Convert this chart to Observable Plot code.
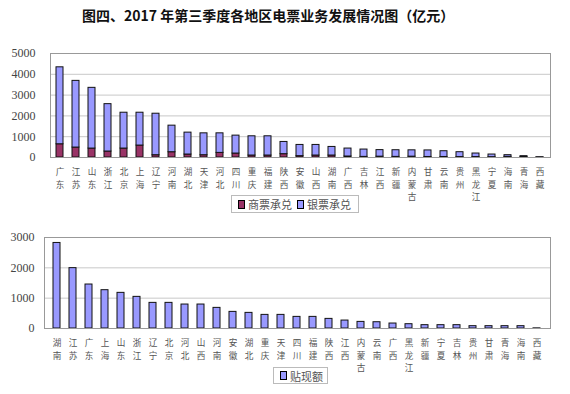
<!DOCTYPE html>
<html>
<head>
<meta charset="utf-8">
<script src="https://cdn.jsdelivr.net/npm/d3@7"></script>
<script src="https://cdn.jsdelivr.net/npm/@observablehq/plot@0.6"></script>
<style>
  body { margin: 0; background: #fff; }
  #wrap { position: relative; width: 570px; height: 394px; background: #fff; overflow: hidden; }
  .abs { position: absolute; }
  #title { left: 82px; top: 5px; font-family: "Noto Sans CJK SC", sans-serif; font-weight: 700; font-size: 14px; line-height: 20px; white-space: nowrap; color: #111; }
  .legend { position: absolute; border: 1px solid #bbb; background: #fff; font-family: "Noto Sans CJK SC", sans-serif; font-size: 11px; color: #555; display: flex; align-items: center; white-space: nowrap; box-sizing: border-box; padding: 0 4px; }
  .sw { display: inline-block; width: 7px; height: 7px; border: 1px solid #000; margin: 0 3px 0 2px; }
</style>
</head>
<body>
<div id="wrap">
  <div id="title" class="abs">图四、2017 年第三季度各地区电票业务发展情况图（亿元）</div>
  <div id="top" class="abs" style="left:0;top:0"></div>
  <div id="bottom" class="abs" style="left:0;top:200px"></div>
  <div id="legTop" class="legend" style="left:231px;top:195px;width:128px;height:18px"></div>
  <div id="legBot" class="legend" style="left:273px;top:367px;width:55px;height:17px"></div>
</div>
<script>
// ---- Data (亿元) ----
const regionsTop = ["广东","江苏","山东","浙江","北京","上海","辽宁","河南","湖北","天津","河北","四川","重庆","福建","陕西","安徽","山西","湖南","广西","吉林","江西","新疆","内蒙古","甘肃","云南","贵州","黑龙江","宁夏","海南","青海","西藏"];
const commercialAcceptance = [636,478,430,287,430,574,110,254,143,110,222,190,95,95,160,64,95,95,48,30,40,30,40,25,25,20,20,15,30,15,2];
const bankAcceptance = [3700,3206,2919,2278,1723,1579,1995,1277,1053,1052,940,862,925,925,588,540,509,413,382,352,315,320,305,315,277,235,171,128,81,49,8];

const regionsBottom = ["湖南","江苏","广东","上海","山东","浙江","辽宁","北京","河北","山西","河南","安徽","湖北","重庆","天津","四川","福建","陕西","江西","内蒙古","云南","广西","黑龙江","新疆","宁夏","吉林","贵州","甘肃","青海","海南","西藏"];
const discount = [2820,1990,1450,1263,1175,1043,845,845,790,790,680,548,515,449,449,383,383,317,262,218,207,164,142,110,110,110,77,77,77,77,5];

const seriesTop = ["商票承兑","银票承兑"];
const seriesBottom = ["贴现额"];
const colorsTop = ["#993366","#9999ff"];
const colorBottom = "#9999ff";
const yTicksTop = [0,1000,2000,3000,4000,5000];
const yTicksBottom = [0,1000,2000,3000];

// ---- build tables ----
const topRows = regionsTop.flatMap((r, i) => [
  {region: r, type: seriesTop[0], value: commercialAcceptance[i]},
  {region: r, type: seriesTop[1], value: bankAcceptance[i]}
]);
const bottomRows = regionsBottom.map((r, i) => ({region: r, value: discount[i]}));

const vertical = d => [...d].join("\n");
const plain = d => String(d);
const cjkFont = "Noto Sans CJK SC, sans-serif";
const numFont = "Liberation Serif, serif";

const topChart = Plot.plot({
  width: 570, height: 200,
  marginLeft: 50, marginRight: 20, marginTop: 53, marginBottom: 43,
  style: {background: "transparent", overflow: "visible"},
  x: {domain: regionsTop, paddingInner: 0.56, paddingOuter: 0.28, label: null},
  y: {domain: [0, 5000], label: null},
  color: {domain: seriesTop, range: colorsTop},
  marks: [
    Plot.gridY(yTicksTop, {stroke: "#c8c8c8", strokeOpacity: 1}),
    Plot.barY(topRows, {x: "region", y: "value", fill: "type", stroke: "#111", strokeWidth: 1}),
    Plot.frame({stroke: "#999"}),
    Plot.axisY(yTicksTop, {tickSize: 0, tickPadding: 15, tickFormat: plain, fontFamily: numFont, fontSize: 12, fill: "#444", label: null}),
    Plot.axisX({tickSize: 0, tickPadding: 9, tickFormat: vertical, fontFamily: cjkFont, fontSize: 8.6, lineHeight: 1.45, fill: "#555", label: null})
  ]
});
document.getElementById("top").appendChild(topChart);

const bottomChart = Plot.plot({
  width: 570, height: 194,
  marginLeft: 44, marginRight: 20, marginTop: 37, marginBottom: 66,
  style: {background: "transparent", overflow: "visible"},
  x: {domain: regionsBottom, paddingInner: 0.56, paddingOuter: 0.28, label: null},
  y: {domain: [0, 3000], label: null},
  marks: [
    Plot.gridY(yTicksBottom, {stroke: "#c8c8c8", strokeOpacity: 1}),
    Plot.barY(bottomRows, {x: "region", y: "value", fill: colorBottom, stroke: "#111", strokeWidth: 1}),
    Plot.frame({stroke: "#999"}),
    Plot.axisY(yTicksBottom, {tickSize: 0, tickPadding: 10, tickFormat: plain, fontFamily: numFont, fontSize: 12, fill: "#444", label: null}),
    Plot.axisX({tickSize: 0, tickPadding: 9, tickFormat: vertical, fontFamily: cjkFont, fontSize: 8.6, lineHeight: 1.45, fill: "#555", label: null})
  ]
});
document.getElementById("bottom").appendChild(bottomChart);

// ---- legends ----
const legTop = document.getElementById("legTop");
seriesTop.forEach((s, i) => {
  const sw = document.createElement("span"); sw.className = "sw"; sw.style.background = colorsTop[i];
  const t = document.createElement("span"); t.textContent = s; t.style.marginRight = "3px";
  legTop.appendChild(sw); legTop.appendChild(t);
});
const legBot = document.getElementById("legBot");
seriesBottom.forEach(s => {
  const sw = document.createElement("span"); sw.className = "sw"; sw.style.background = colorBottom;
  const t = document.createElement("span"); t.textContent = s;
  legBot.appendChild(sw); legBot.appendChild(t);
});
</script>
</body>
</html>
